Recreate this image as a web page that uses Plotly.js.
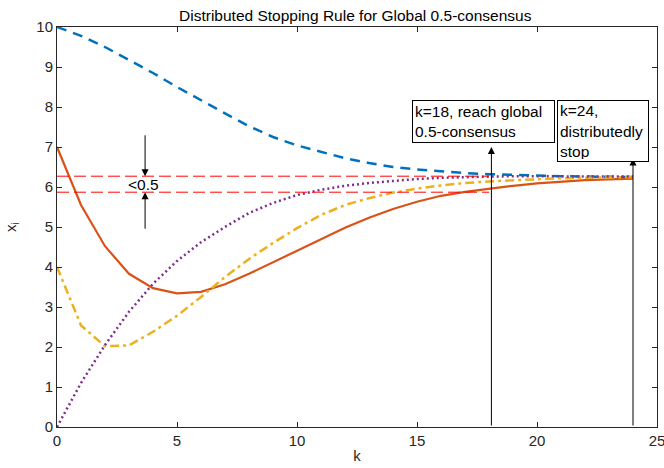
<!DOCTYPE html>
<html>
<head>
<meta charset="utf-8">
<script src="https://cdn.plot.ly/plotly-3.0.1.min.js"></script>
<style>html,body{margin:0;padding:0;background:#fff;}#chart{width:664px;height:468px;}</style>
</head>
<body>
<div id="chart"></div>
<script>
var k = [0,1,2,3,4,5,6,7,8,9,10,11,12,13,14,15,16,17,18,19,20,21,22,23,24];
var x1 = [10,9.78,9.5,9.18,8.85,8.5,8.16,7.84,7.52,7.25,7.04,6.88,6.72,6.6,6.5,6.44,6.39,6.35,6.32,6.3,6.28,6.27,6.26,6.25,6.25];
var x2 = [7,5.55,4.52,3.83,3.47,3.34,3.38,3.57,3.83,4.12,4.42,4.7,4.98,5.23,5.45,5.63,5.78,5.88,5.96,6.03,6.09,6.13,6.17,6.19,6.21];
var x3 = [4,2.54,2.02,2.04,2.38,2.78,3.25,3.75,4.2,4.6,4.97,5.3,5.55,5.72,5.86,5.96,6.04,6.1,6.14,6.17,6.2,6.22,6.23,6.24,6.25];
var x4 = [0,1.1,2.05,2.88,3.58,4.15,4.62,5.0,5.35,5.6,5.8,5.93,6.03,6.1,6.15,6.2,6.23,6.25,6.26,6.27,6.27,6.27,6.26,6.26,6.26];
var boundK = [0,18];
var upperBound = [6.27,6.27];
var lowerBound = [5.87,5.87];
var gapK = 3.67;
var gapArrowStart = [7.33, 4.92];
var consensusK = 18.1, consensusTip = 7.0;
var stopK = 24, stopTip = 6.71;
var noteTexts = ["k=18, reach global<br>0.5-consensus", "k=24,<br>distributedly<br>stop"];
var xTicks = [0,5,10,15,20,25];
var yTicks = [0,1,2,3,4,5,6,7,8,9,10];

var FONT = "Liberation Sans, Arial, Helvetica, sans-serif";
var TC = "#262626";

var traces = [
  {x:k, y:x1, mode:'lines', line:{color:'#0072BD', width:2.5, dash:'10px,7px'}},
  {x:k, y:x2, mode:'lines', line:{color:'#D95319', width:2.2}},
  {x:k, y:x3, mode:'lines', line:{color:'#EDB120', width:2.5, dash:'9px,4px,3px,4px'}},
  {x:k, y:x4, mode:'lines', line:{color:'#7E2F8E', width:2.5, dash:'2px,3px'}},
  {x:boundK, y:upperBound, mode:'lines', line:{color:'#FF0000', width:1, dash:'12px,5px'}},
  {x:boundK, y:lowerBound, mode:'lines', line:{color:'#FF0000', width:1, dash:'12px,5px'}}
];

var arrow = function(xv, yv, ax, ay){
  return {x:xv, y:yv, ax:ax, ay:ay, xref:'x', yref:'y', axref:'x', ayref:'y',
    text:'', showarrow:true, arrowhead:2, arrowsize:1.4, arrowwidth:1, arrowcolor:'#000'};
};

var annotations = [
  arrow(gapK, upperBound[0], gapK, gapArrowStart[0]),
  arrow(gapK, lowerBound[0], gapK, gapArrowStart[1]),
  {x:gapK-0.05, y:(upperBound[0]+lowerBound[0])/2, xref:'x', yref:'y', text:'&lt;0.5', showarrow:false,
   font:{family:FONT, size:15.5, color:'#000'}, xanchor:'center', yanchor:'middle'},
  arrow(consensusK, consensusTip, consensusK, 0),
  arrow(stopK, stopTip, stopK, 0),
  {x:14.8, y:8.18, xref:'x', yref:'y', xanchor:'left', yanchor:'top', text:noteTexts[0], showarrow:false,
   align:'left', width:137, height:37, bordercolor:'#000', borderwidth:1, borderpad:2, bgcolor:'#fff',
   font:{family:FONT, size:15.5, color:'#000'}, valign:'middle'},
  {x:20.85, y:8.18, xref:'x', yref:'y', xanchor:'left', yanchor:'top', text:noteTexts[1], showarrow:false,
   align:'left', width:86, height:56, bordercolor:'#000', borderwidth:1, borderpad:2, bgcolor:'#fff',
   font:{family:FONT, size:15.5, color:'#000'}, valign:'middle'}
];

var axisCommon = {
  showgrid:false, zeroline:false, showline:true, linecolor:TC, linewidth:1,
  ticks:'inside', ticklen:5, tickcolor:TC, tickwidth:1, mirror:'ticks',
  ticklabeloverflow:'allow',
  tickfont:{family:FONT, size:15, color:TC}
};

var layout = {
  width:664, height:468,
  margin:{l:57, r:7, t:27, b:41},
  paper_bgcolor:'#fff', plot_bgcolor:'#fff',
  showlegend:false,
  title:{text:'Distributed Stopping Rule for Global 0.5-consensus', font:{family:FONT, size:15.5, color:'#000'},
         x:0.535, xanchor:'center', y:0.966, yanchor:'middle'},
  xaxis:Object.assign({}, axisCommon, {range:[0,25], tickvals:xTicks,
         title:{text:'k', font:{family:FONT, size:15, color:TC}, standoff:2}}),
  yaxis:Object.assign({}, axisCommon, {range:[0,10], tickvals:yTicks,
         title:{text:'x<sub>i</sub>', font:{family:FONT, size:15, color:TC}, standoff:16}}),
  annotations:annotations
};

Plotly.newPlot('chart', traces, layout, {displayModeBar:false, staticPlot:true});
</script>
</body>
</html>
